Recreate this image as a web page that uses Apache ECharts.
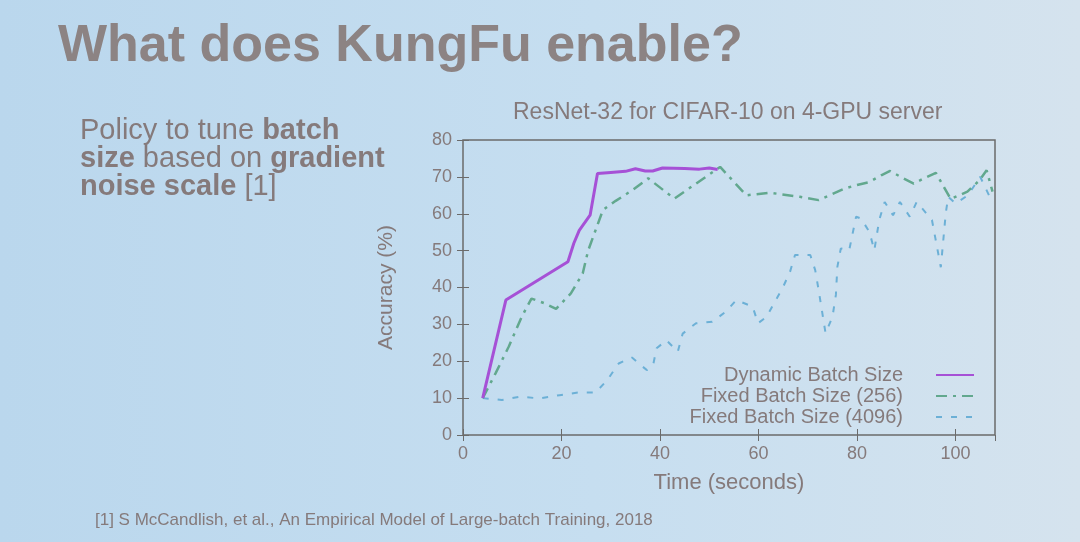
<!DOCTYPE html>
<html>
<head>
<meta charset="utf-8">
<script src="https://cdn.jsdelivr.net/npm/echarts@6/dist/echarts.min.js"></script>
<style>
  html, body { margin: 0; padding: 0; }
  body { background: linear-gradient(90deg, #bad7ed 0%, #c6def0 55%, #d5e3ee 100%); }
</style>
</head>
<body>
<div id="main" style="width:1080px;height:542px;"></div>
<script>
    // values: [time (s), accuracy (%)]
    var dynamicBatch = [
        [4, 10], [8.7, 36.6], [21.3, 47], [22.5, 52], [23.6, 55.5], [25.8, 59.6], [27.3, 70.9],
        [30, 71.2], [33, 71.5], [35, 72.2], [37, 71.6], [38.5, 71.6], [40.5, 72.4], [45, 72.3],
        [48, 72.1], [50, 72.4], [51.7, 72]
    ];
    var fixed256 = [
        [4, 10], [6.6, 16.7], [9.3, 24], [11.9, 32], [13.9, 37], [16.6, 35.7], [18.9, 34.2],
        [21.9, 38.4], [24.3, 43.8], [25.4, 50], [28.4, 61], [31, 63.5], [34.5, 66.5], [37.6, 69.6],
        [42.9, 64.1], [52.2, 72.7], [57.5, 65], [62.3, 65.7], [68.4, 64.6], [72.2, 63.7],
        [77.6, 66.9], [80, 67.8], [82.5, 68.6], [85, 70.5], [86.7, 71.6], [89.4, 69.6],
        [91.5, 68.2], [93.6, 69.6], [96, 71.1], [99, 64], [102.4, 66], [104.8, 69],
        [106.3, 71.8], [107.5, 66]
    ];
    var fixed4096 = [
        [4, 10], [7.9, 9.5], [11.6, 10.4], [15.6, 9.9], [19.6, 10.8], [23.3, 11.5], [26.9, 11.5],
        [29.3, 14.9], [31.6, 19.4], [34.3, 21], [37.3, 17.6], [38.6, 19], [39.3, 23.5], [41.3, 25.7],
        [43.6, 22.6], [44.6, 27.5], [47.3, 30.3], [50.6, 30.7], [53.3, 33.4], [55.5, 36.6],
        [58.8, 34.8], [59.9, 30.3], [61.6, 32], [63.3, 36.1], [65, 40.2], [66.4, 44.3], [67.4, 48.8],
        [70.5, 48.8], [71.5, 44.7], [72.2, 39.3], [73.6, 27.6], [75, 32], [75.7, 38], [76, 45.6],
        [76.7, 50.6], [78.4, 50.1], [79.8, 59.2], [80.8, 58.7], [82.5, 55.1], [83.5, 50.1],
        [84.5, 58.3], [85.6, 63.2], [87.3, 59.6], [88.7, 63.2], [90.7, 59.2], [92.1, 63.2],
        [95.2, 58.3], [97, 45.5], [98, 60.1], [98.5, 64.6], [100, 62.8], [102.5, 65],
        [105, 70], [107.5, 63]
    ];
    var seriesNames = ['Dynamic Batch Size', 'Fixed Batch Size (256)', 'Fixed Batch Size (4096)'];

    var textColor = '#857a7b';
    var fontFam = '"Liberation Sans", Arial, sans-serif';

    var myChart = echarts.init(document.getElementById('main'));

    var option = {
        backgroundColor: 'transparent',
        textStyle: { fontFamily: fontFam },
        title: [
            {
                text: 'What does KungFu enable?',
                left: 53, top: 16,
                textStyle: { fontSize: 52, fontWeight: 'bold', color: '#8c8383', fontFamily: fontFam }
            },
            {
                text: 'ResNet-32 for CIFAR-10 on 4-GPU server',
                left: 508, top: 96,
                textStyle: { fontSize: 23, fontWeight: 'normal', color: textColor, fontFamily: fontFam }
            }
        ],
        graphic: [
            {
                type: 'text', left: 80, top: 116,
                style: {
                    text: 'Policy to tune {b|batch}\n{b|size} based on {b|gradient}\n{b|noise scale} [1]',
                    fill: textColor, font: '29px ' + fontFam, lineHeight: 28,
                    rich: { b: { fontWeight: 'bold', fontSize: 29, fill: textColor, lineHeight: 28 } }
                }
            },
            {
                type: 'text', left: 95, top: 512,
                style: {
                    text: '[1] S McCandlish, et al., An Empirical Model of Large-batch Training, 2018',
                    fill: textColor, font: '17px ' + fontFam
                }
            }
        ],
        legend: {
            orient: 'vertical',
            right: 100, top: 360,
            align: 'right',
            itemWidth: 38, itemHeight: 14, itemGap: 1,
            itemStyle: { opacity: 0 },
            textStyle: { fontSize: 20, lineHeight: 20, color: textColor, fontFamily: fontFam, padding: [0, 28, 0, 0] },
            data: seriesNames
        },
        grid: {
            left: 463, right: 85, top: 140, bottom: 107,
            show: true, borderColor: '#6b6b6b', borderWidth: 1.5
        },
        xAxis: [
            {
                type: 'value', min: 0, max: 108, interval: 20,
                name: 'Time (seconds)', nameLocation: 'middle', nameGap: 37,
                nameTextStyle: { fontSize: 22, color: textColor },
                axisLine: { show: false },
                axisTick: { inside: true, length: 6, lineStyle: { color: '#6b6b6b' } },
                axisLabel: { fontSize: 18, color: textColor, margin: 10, showMaxLabel: false },
                splitLine: { show: false }
            },
            {
                type: 'value', position: 'top', min: 0, max: 108, interval: 20,
                axisLine: { show: false },
                axisTick: { inside: true, length: 6, lineStyle: { color: '#6b6b6b' } },
                axisLabel: { show: false },
                splitLine: { show: false }
            }
        ],
        yAxis: [
            {
                type: 'value', min: 0, max: 80, interval: 10,
                name: 'Accuracy (%)', nameLocation: 'middle', nameGap: 66, nameRotate: 90,
                nameTextStyle: { fontSize: 21, color: textColor },
                axisLine: { show: false },
                axisTick: { inside: true, length: 6, lineStyle: { color: '#6b6b6b' } },
                axisLabel: { fontSize: 18, color: textColor, margin: 11 },
                splitLine: { show: false }
            },
            {
                type: 'value', position: 'right', min: 0, max: 80, interval: 10,
                axisLine: { show: false },
                axisTick: { inside: true, length: 6, lineStyle: { color: '#6b6b6b' } },
                axisLabel: { show: false },
                splitLine: { show: false }
            }
        ],
        series: [
            {
                name: seriesNames[0], type: 'line', data: dynamicBatch,
                showSymbol: false, symbol: 'none', z: 4,
                itemStyle: { color: '#a651d6' },
                lineStyle: { color: '#a651d6', width: 3 }
            },
            {
                name: seriesNames[1], type: 'line', data: fixed256,
                showSymbol: false, symbol: 'none', z: 3,
                itemStyle: { color: '#62a88e' },
                lineStyle: { color: '#62a88e', width: 2.5, type: [11, 6, 3, 6] }
            },
            {
                name: seriesNames[2], type: 'line', data: fixed4096,
                showSymbol: false, symbol: 'none', z: 2,
                itemStyle: { color: '#6cb0d6' },
                lineStyle: { color: '#6cb0d6', width: 2, type: [6, 9] }
            }
        ]
    };

    myChart.setOption(option);
</script>
</body>
</html>
